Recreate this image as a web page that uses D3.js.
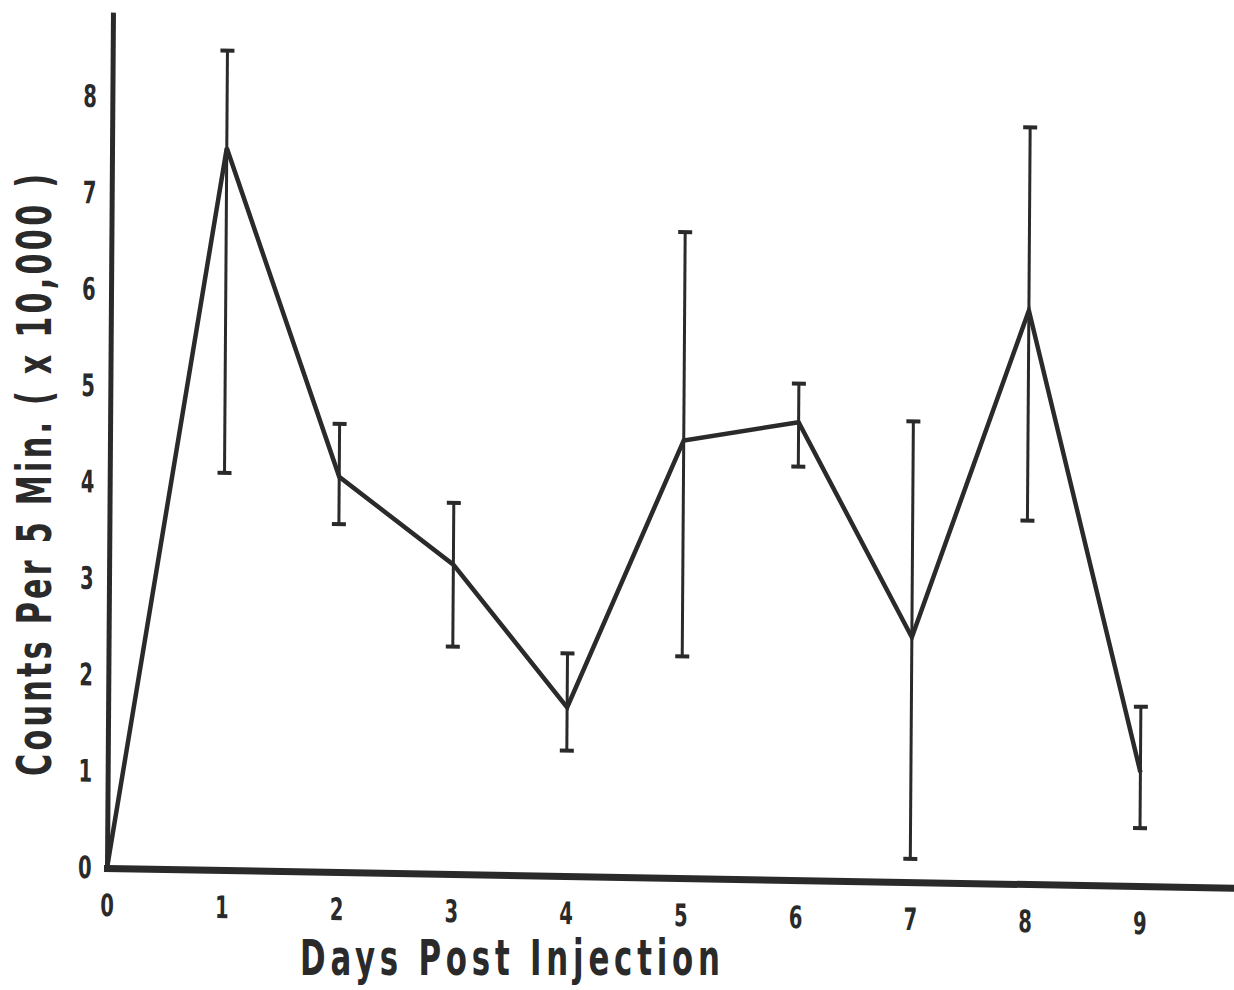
<!DOCTYPE html>
<html>
<head>
<meta charset="utf-8">
<script src="https://cdn.jsdelivr.net/npm/d3@7"></script>
<style>
  html, body { margin: 0; padding: 0; background: #fff; }
  svg { display: block; }
  text { font-family: "Liberation Sans Narrow", "DejaVu Sans Condensed", "Roboto Condensed", sans-serif; font-weight: bold; font-stretch: condensed; fill: #2a2a2a; }
</style>
</head>
<body>
<svg id="chart" width="1234" height="990"></svg>
<script>
// ---- data ----
const days   = [0, 1, 2, 3, 4, 5, 6, 7, 8, 9];
const means  = [0, 7.49, 4.10, 3.21, 1.75, 4.54, 4.75, 2.54, 5.95, 1.18];
const upper  = [null, 8.50, 4.65, 3.85, 2.31, 6.70, 5.15, 4.78, 7.85, 1.86];
const lower  = [null, 4.12, 3.61, 2.36, 1.30, 2.30, 4.29, 0.24, 3.77, 0.60];
const xTicks = [0, 1, 2, 3, 4, 5, 6, 7, 8, 9];
const yTicks = [0, 1, 2, 3, 4, 5, 6, 7, 8];
const xTitle = "Days  Post  Injection";
const yTitle = "Counts Per 5 Min. ( x 10,000 )";

const ink = "#2a2a2a";
const svg = d3.select("#chart");

// plot origin; the scanned original is slightly skewed, reproduced by a transform
const origin = { x: 107, y: 868 };
const g = svg.append("g")
  .attr("transform", `translate(${origin.x},${origin.y}) skewY(1) skewX(-0.4)`);

const x = d3.scaleLinear().domain([0, 9.84]).range([0, 1129]);
const y = d3.scaleLinear().domain([0, 8.88]).range([0, -856]);

// axes
const xAxis = d3.axisBottom(x).tickValues(xTicks).tickFormat(d3.format("d")).tickSize(0).tickPadding(26);
const yAxis = d3.axisLeft(y).tickValues(yTicks).tickFormat(d3.format("d")).tickSize(0).tickPadding(14);

const gx = g.append("g").call(xAxis);
gx.select(".domain").attr("stroke", ink).attr("stroke-width", 7).attr("stroke-linecap", "square");
gx.selectAll(".tick text").attr("font-size", 31).attr("fill", ink)
  .attr("transform", "scale(0.7,1)")
  .style("font-family", '"Liberation Sans Narrow", "DejaVu Sans Condensed", sans-serif');

const gy = g.append("g").call(yAxis);
gy.select(".domain").attr("stroke", ink).attr("stroke-width", 5);
gy.selectAll(".tick text").attr("font-size", 31).attr("fill", ink)
  .attr("x", -22).attr("transform", "scale(0.7,1)")
  .style("font-family", '"Liberation Sans Narrow", "DejaVu Sans Condensed", sans-serif');

// error bars
const pts = days.map((d, i) => ({ d, m: means[i], hi: upper[i], lo: lower[i] }));
const eb = pts.filter(p => p.hi != null);
const capW = 7;
g.append("g").selectAll("line.bar").data(eb).join("line")
  .attr("class", "bar")
  .attr("x1", p => x(p.d)).attr("x2", p => x(p.d))
  .attr("y1", p => y(p.lo)).attr("y2", p => y(p.hi))
  .attr("stroke", ink).attr("stroke-width", 3);
g.append("g").selectAll("line.capHi").data(eb).join("line")
  .attr("x1", p => x(p.d) - capW).attr("x2", p => x(p.d) + capW)
  .attr("y1", p => y(p.hi)).attr("y2", p => y(p.hi))
  .attr("stroke", ink).attr("stroke-width", 4);
g.append("g").selectAll("line.capLo").data(eb).join("line")
  .attr("x1", p => x(p.d) - capW).attr("x2", p => x(p.d) + capW)
  .attr("y1", p => y(p.lo)).attr("y2", p => y(p.lo))
  .attr("stroke", ink).attr("stroke-width", 4);

// mean line
g.append("path").datum(pts)
  .attr("fill", "none").attr("stroke", ink).attr("stroke-width", 4.5)
  .attr("stroke-linejoin", "miter")
  .attr("d", d3.line().x(p => x(p.d)).y(p => y(p.m)));

// titles (condensed, widely spaced lettering)
svg.append("text")
  .attr("transform", "translate(300,975) scale(0.7,1)")
  .attr("font-size", 49)
  .attr("textLength", 600).attr("lengthAdjust", "spacing")
  .text(xTitle);

svg.append("text")
  .attr("transform", "translate(51,776) rotate(-90) scale(0.7,1)")
  .attr("font-size", 48)
  .attr("textLength", 860).attr("lengthAdjust", "spacing")
  .text(yTitle);
</script>
</body>
</html>
